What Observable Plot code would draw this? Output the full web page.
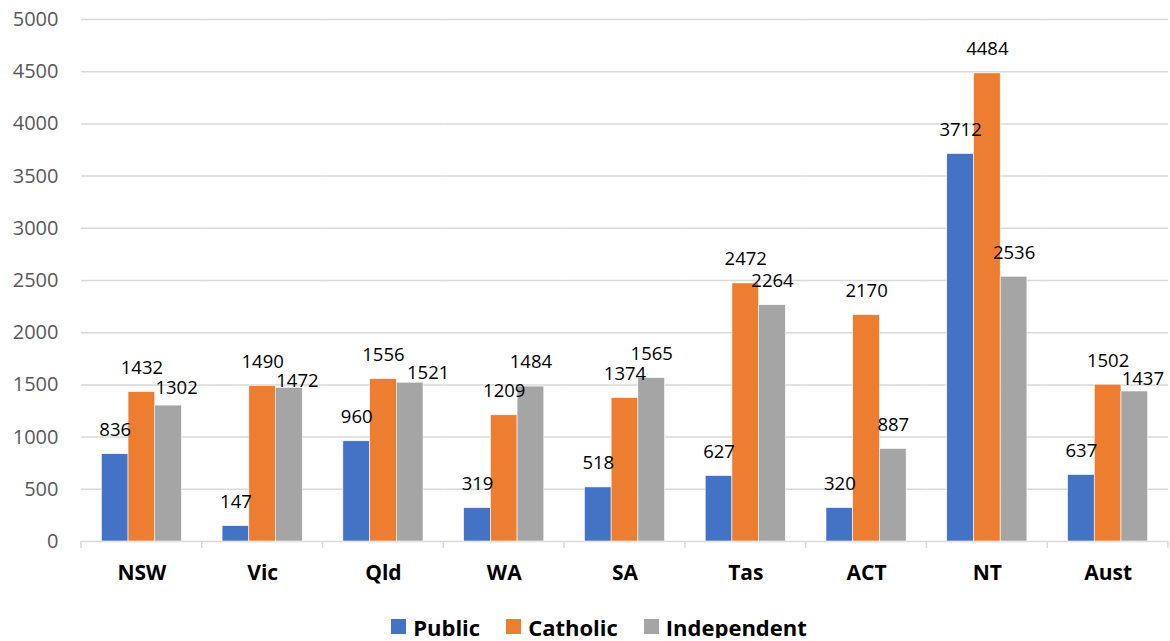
<!DOCTYPE html>
<html>
<head>
<meta charset="utf-8">
<script src="https://cdn.jsdelivr.net/npm/d3@7"></script>
<script src="https://cdn.jsdelivr.net/npm/@observablehq/plot@0.6"></script>
<style>
  html, body { margin: 0; padding: 0; background: #fff; }
  #chart { width: 1170px; height: 590px; }
  .legend { display: flex; justify-content: center; align-items: center; width: 1170px; height: 48px; box-sizing: border-box; padding-left: 28px; padding-top: 25px; font-family: "Open Sans", sans-serif; font-weight: bold; font-size: 22px; line-height: 22px; color: #000; }
  .legend .item { display: flex; align-items: center; margin: 0 13px; }
  .legend .sw { width: 15px; height: 15px; margin-right: 7px; }
</style>
</head>
<body>
<div id="chart"></div>
<script>
const categories = ["NSW", "Vic", "Qld", "WA", "SA", "Tas", "ACT", "NT", "Aust"];
const series = ["Public", "Catholic", "Independent"];
const publicValues = [836, 147, 960, 319, 518, 627, 320, 3712, 637];
const catholicValues = [1432, 1490, 1556, 1209, 1374, 2472, 2170, 4484, 1502];
const independentValues = [1302, 1472, 1521, 1484, 1565, 2264, 887, 2536, 1437];
const yTicks = [0, 500, 1000, 1500, 2000, 2500, 3000, 3500, 4000, 4500, 5000];
const colors = ["#4472C4", "#ED7D31", "#A5A5A5"];
// manual label nudges (dx, down-shift in px) as in the reference, Independent series only
const independentLabelNudge = { NSW: [8, 7], Vic: [8, 17], Qld: [18, 14], Aust: [8, 12] };

const valuesBySeries = [publicValues, catholicValues, independentValues];
const rows = [];
categories.forEach((c, i) => {
  series.forEach((s, j) => {
    const nudge = (s === "Independent" && independentLabelNudge[c]) || [0, 0];
    rows.push({ category: c, series: s, value: valuesBySeries[j][i], ndx: nudge[0], ndy: nudge[1] });
  });
});

const chart = Plot.plot({
  width: 1170,
  height: 590,
  marginLeft: 81,
  marginRight: 2,
  marginTop: 19,
  marginBottom: 49,
  style: { fontFamily: "Open Sans, sans-serif", background: "#fff" },
  fx: { domain: categories, padding: 0, round: false, label: null },
  x: { domain: series, paddingInner: 0, paddingOuter: 0.76, round: false, axis: null },
  y: { domain: [0, 5000], label: null },
  color: { domain: series, range: colors },
  marks: [
    Plot.gridY(yTicks, { stroke: "#D9D9D9", strokeOpacity: 1, strokeWidth: 1.5 }),
    Plot.axisY(yTicks, { tickSize: 0, tickPadding: 23, fontSize: 20, fill: "#595959", tickFormat: d => String(d), label: null }),
    Plot.axisFx({ anchor: "bottom", tickSize: 0, tickPadding: 24, fontSize: 21, fontWeight: "bold", fill: "#000", label: null }),
    Plot.barY(rows, { fx: "category", x: "series", y: "value", fill: "series", stroke: "#fff", strokeWidth: 0.6 }),
    Plot.text(rows, {
      fx: "category", x: "series", y: "value", text: d => String(d.value),
      lineAnchor: "middle", fontSize: 18.5, fill: "#000",
      render: (index, scales, values, dims, ctx, next) => {
        const g = next(index, scales, values, dims, ctx);
        d3.select(g).selectAll("text").each(function (_, k) {
          const d = rows[index[k]];
          const el = d3.select(this);
          const t = el.attr("transform") || "";
          el.attr("transform", t + ` translate(${d.ndx},${-24 + d.ndy})`);
        });
        return g;
      }
    })
  ]
});

document.getElementById("chart").appendChild(chart);

// category separator ticks below the baseline, from the fx scale
const fxs = chart.scale("fx");
const ys = chart.scale("y");
const y0 = ys.apply(0);
const svg = d3.select(chart.tagName === "svg" ? chart : chart.querySelector("svg"));
const edges = categories.map(c => fxs.apply(c));
edges.push(fxs.apply(categories[categories.length - 1]) + fxs.bandwidth);
svg.append("g").selectAll("line").data(edges).join("line")
  .attr("x1", d => d).attr("x2", d => d)
  .attr("y1", y0).attr("y2", y0 + 7)
  .attr("stroke", "#D9D9D9").attr("stroke-width", 1.5);

// legend
const legend = d3.select("body").append("div").attr("class", "legend");
series.forEach((s, i) => {
  const item = legend.append("div").attr("class", "item");
  item.append("div").attr("class", "sw").style("background", colors[i]);
  item.append("span").text(s);
});
</script>
</body>
</html>
